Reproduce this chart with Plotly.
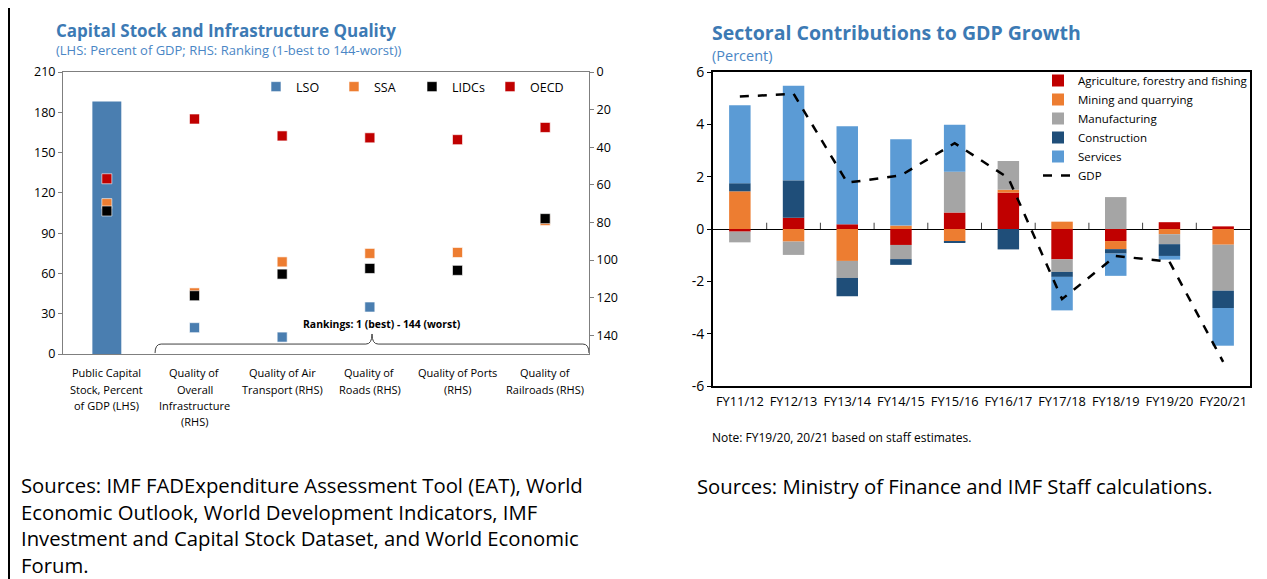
import plotly.graph_objects as go

W, H = 1267, 579
OFF = 8  # page body offset of the figure inside the browser window
FONT = "Open Sans"
BLUE_TITLE = "#3C7AB4"


def px_x(p):
    return (p - OFF) / W


def px_y(p):
    return 1 - (p - OFF) / H


# ---------------- Left chart data ----------------
left_categories = [
    "Public Capital<br>Stock, Percent<br>of GDP (LHS)",
    "Quality of<br>Overall<br>Infrastructure<br>(RHS)",
    "Quality of Air<br>Transport (RHS)",
    "Quality of<br>Roads (RHS)",
    "Quality of Ports<br>(RHS)",
    "Quality of<br>Railroads (RHS)",
]
capital_stock_lso = 188.0
capital_stock_ssa = 112.0
capital_stock_lidcs = 106.5
capital_stock_oecd = 130.5
rank_lso = [136, 141, 125, None, None]
rank_ssa = [117.5, 101, 96.5, 96, 79]
rank_lidcs = [119, 107.5, 104.5, 105.5, 78]
rank_oecd = [25, 34, 35, 36, 29.5]
left_series_colors = {"LSO": "#4A7EB0", "SSA": "#ED7D31", "LIDCs": "#000000", "OECD": "#C00000"}
lhs_ticks = list(range(0, 211, 30))
rhs_ticks = list(range(0, 141, 20))

# ---------------- Right chart data ----------------
fiscal_years = ["FY11/12", "FY12/13", "FY13/14", "FY14/15", "FY15/16",
                "FY16/17", "FY17/18", "FY18/19", "FY19/20", "FY20/21"]
agriculture = [-0.10, 0.43, 0.18, -0.61, 0.63, 1.39, -1.16, -0.46, 0.26, 0.10]
mining = [1.44, -0.48, -1.22, 0.13, -0.48, 0.11, 0.28, -0.31, -0.20, -0.60]
manufacturing = [-0.41, -0.51, -0.65, -0.54, 1.56, 1.10, -0.48, 1.22, -0.38, -1.76]
construction = [0.31, 1.43, -0.70, -0.22, -0.02, -0.78, -0.19, -0.17, -0.45, -0.66]
services = [2.98, 3.61, 3.75, 3.30, 1.79, 0.0, -1.28, -0.85, -0.14, -1.44]
gdp = [5.06, 5.17, 1.77, 2.05, 3.28, 1.95, -2.68, -1.03, -1.25, -5.08]
sector_names = ["Agriculture, forestry and fishing", "Mining and quarrying",
                "Manufacturing", "Construction", "Services"]
sector_colors = ["#C00000", "#ED7D31", "#A5A5A5", "#1F4E79", "#5B9BD5"]
pct_ticks = list(range(-6, 7, 2))

fig = go.Figure()

# ---- Left chart traces ----
xl = list(range(len(left_categories)))
xr = xl[1:]
fig.add_trace(go.Bar(x=[xl[0]], y=[capital_stock_lso], width=0.33,
                     marker=dict(color=left_series_colors["LSO"], line=dict(width=0)),
                     xaxis="x", yaxis="y", showlegend=False, legendgroup="LSO"))
marker_style = dict(symbol="square", size=10, line=dict(width=1, color="rgba(255,255,255,0.6)"))
for name, lhs, rhs in [("LSO", None, rank_lso),
                       ("SSA", capital_stock_ssa, rank_ssa),
                       ("LIDCs", capital_stock_lidcs, rank_lidcs),
                       ("OECD", capital_stock_oecd, rank_oecd)]:
    if lhs is not None:
        fig.add_trace(go.Scatter(x=[xl[0]], y=[lhs], mode="markers",
                                 marker=dict(color=left_series_colors[name], **marker_style),
                                 xaxis="x", yaxis="y", showlegend=False, legendgroup=name))
    fig.add_trace(go.Scatter(x=xr, y=rhs, mode="markers", name=name,
                             marker=dict(color=left_series_colors[name], **marker_style),
                             xaxis="x", yaxis="y2", legend="legend", legendgroup=name))

# ---- Right chart traces ----
for name, vals, col in zip(sector_names,
                           [agriculture, mining, manufacturing, construction, services],
                           sector_colors):
    fig.add_trace(go.Bar(x=fiscal_years, y=vals, name=name, width=0.4,
                         marker=dict(color=col, line=dict(width=0)),
                         xaxis="x2", yaxis="y3", legend="legend2"))
fig.add_trace(go.Scatter(x=fiscal_years, y=gdp, mode="lines", name="GDP",
                         line=dict(color="black", width=2.5, dash="dash"),
                         xaxis="x2", yaxis="y3", legend="legend2"))

# ---- shapes ----
shapes = []
shapes.append(dict(type="line", xref="paper", yref="paper", x0=px_x(9), x1=px_x(9),
                   y0=0, y1=1, line=dict(color="black", width=2)))
for i in range(len(fiscal_years) - 1):
    shapes.append(dict(type="line", xref="x2", yref="y3", x0=i + 0.5, x1=i + 0.5,
                       y0=0, y1=0.24, line=dict(color="#404040", width=1)))
a, b = 0.55, len(left_categories) - 0.5
m = (a + b) / 2
hy, ey, py = 7.4, 0.7, 14.9
bracket = (f"M {a},{ey} Q {a},{hy} {a+0.07},{hy} L {m-0.07},{hy} Q {m},{hy} {m},{py} "
           f"Q {m},{hy} {m+0.07},{hy} L {b-0.07},{hy} Q {b},{hy} {b},{ey}")
shapes.append(dict(type="path", xref="x", yref="y", path=bracket,
                   line=dict(color="#404040", width=1)))

# ---- annotations ----
ann = []


def text(x, y, s, size, color="black", bold=False, xanchor="left", yanchor="middle"):
    ann.append(dict(x=px_x(x), y=px_y(y), xref="paper", yref="paper", text=s,
                    showarrow=False, xanchor=xanchor, yanchor=yanchor,
                    font=dict(family=FONT, size=size, color=color,
                              weight="bold" if bold else "normal")))


text(54, 31, "Capital Stock and Infrastructure Quality", 17, BLUE_TITLE, bold=True)
text(54, 50, "(LHS: Percent of GDP; RHS: Ranking (1-best to 144-worst))", 13, "#4A86C5")
text(710, 32, "Sectoral Contributions to GDP Growth", 19.5, BLUE_TITLE, bold=True)
text(710, 56, "(Percent)", 14.5, "#4A86C5")
ann.append(dict(x=m + 0.11, y=(354 - 324) / 1.343, xref="x", yref="y",
                text="Rankings: 1 (best) - 144 (worst)", showarrow=False,
                font=dict(family=FONT, size=10.4, color="black", weight="bold")))
text(710, 437, "Note: FY19/20, 20/21 based on staff estimates.", 12)
# category labels of the left chart, one line at a time
for i, lab in enumerate(left_categories):
    for k, line in enumerate(lab.split("<br>")):
        ann.append(dict(x=xl[i], y=px_y(373 + 16 * k), xref="x", yref="paper", text=line,
                        showarrow=False, xanchor="center", yanchor="middle",
                        font=dict(family=FONT, size=11, color="black")))
left_sources = ["Sources: IMF FADExpenditure Assessment Tool (EAT), World",
                "Economic Outlook, World Development Indicators, IMF",
                "Investment and Capital Stock Dataset, and World Economic",
                "Forum."]
for k, line in enumerate(left_sources):
    text(19, 485 + 26.6 * k, line, 20.3)
text(695, 486, "Sources: Ministry of Finance and IMF Staff calculations.", 20.3)

fig.update_layout(
    width=W, height=H,
    margin=dict(l=0, r=0, t=0, b=0, autoexpand=False),
    paper_bgcolor="white", plot_bgcolor="white",
    barmode="relative",
    font=dict(family=FONT, size=12, color="black"),
    shapes=shapes, annotations=ann,
    xaxis=dict(domain=[px_x(63), px_x(589)], range=[-0.5, len(left_categories) - 0.5],
               tickvals=xl, showticklabels=False, automargin=False,
               showline=True, linecolor="#7F7F7F", linewidth=1, mirror=True,
               showgrid=False, zeroline=False, ticks=""),
    yaxis=dict(domain=[px_y(354), px_y(72)], range=[0, 210], tickvals=lhs_ticks,
               showline=True, linecolor="#7F7F7F", linewidth=1, automargin=False,
               ticks="outside", ticklen=4, tickcolor="#7F7F7F",
               showgrid=False, zeroline=False, tickfont=dict(size=12.5)),
    yaxis2=dict(overlaying="y", side="right", anchor="x", range=[150, 0],
                tickvals=rhs_ticks, automargin=False,
                showline=True, linecolor="#7F7F7F", linewidth=1,
                ticks="outside", ticklen=4, tickcolor="#7F7F7F",
                showgrid=False, zeroline=False, tickfont=dict(size=12.5)),
    xaxis2=dict(domain=[px_x(713), px_x(1250)], anchor="y3", automargin=False,
                showline=True, linecolor="black", linewidth=2, mirror=True,
                showgrid=False, ticks="", tickfont=dict(size=12.8), ticklabelstandoff=3),
    yaxis3=dict(domain=[px_y(386), px_y(72)], anchor="x2", range=[-6, 6],
                tickvals=pct_ticks, ticktext=[str(v) for v in pct_ticks], automargin=False,
                showline=True, linecolor="black", linewidth=2, mirror=True,
                ticks="outside", ticklen=4, tickcolor="black",
                showgrid=False, zeroline=True, zerolinecolor="black", zerolinewidth=1,
                tickfont=dict(size=14)),
    legend=dict(orientation="h", x=px_x(256), y=px_y(87), xanchor="left", yanchor="middle",
                entrywidth=33, entrywidthmode="pixels",
                bgcolor="rgba(0,0,0,0)", font=dict(size=12.5)),
    legend2=dict(orientation="v", x=px_x(1038), y=px_y(66), xanchor="left", yanchor="top",
                 traceorder="normal", bgcolor="rgba(0,0,0,0)", tracegroupgap=0,
                 font=dict(size=11.5)),
)

fig.write_html("out.html")
